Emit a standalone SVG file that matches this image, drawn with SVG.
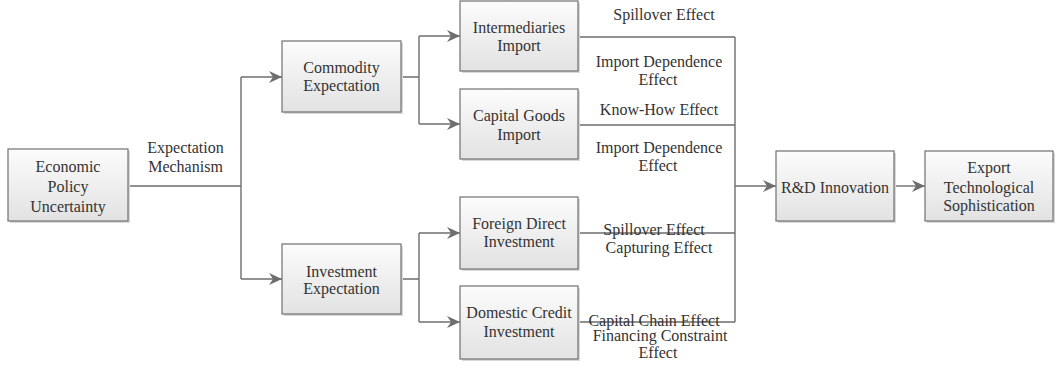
<svg xmlns="http://www.w3.org/2000/svg" width="1060" height="365" viewBox="0 0 1060 365">
<style>
.box{fill:url(#g);stroke:#707070;stroke-width:1.2}
.sh{fill:#d8d8d8}
.t{font-family:"Liberation Serif","Times New Roman",serif;font-size:16px;fill:#333;text-anchor:middle}
.c{fill:none;stroke:#6e6e6e;stroke-width:1.4}
.a{marker-end:url(#ar)}
</style>
<defs>
<linearGradient id="g" x1="0" y1="0" x2="0" y2="1">
<stop offset="0" stop-color="#fcfcfc"/>
<stop offset="1" stop-color="#e2e2e2"/>
</linearGradient>
<marker id="ar" markerUnits="userSpaceOnUse" markerWidth="14" markerHeight="12" refX="13" refY="6" orient="auto" viewBox="0 0 14 12">
<path d="M0,0 L13,6 L0,12 L4,6 Z" fill="#6e6e6e"/>
</marker>
</defs>
<g id="connectors">
<path class="c" d="M128,186 H241 M241,77 V279 M401,77 H419 M419,36 V124 M401,279 H419 M419,233 V322 M578,37 H735 M578,125 H735 M578,233 H735 M578,322 H735 M735,37 V322"/>
<path class="c a" d="M241,77 H282"/>
<path class="c a" d="M241,279 H282"/>
<path class="c a" d="M419,36 H460"/>
<path class="c a" d="M419,124 H460"/>
<path class="c a" d="M419,233 H460"/>
<path class="c a" d="M419,322 H460"/>
<path class="c a" d="M735,186 H776"/>
<path class="c a" d="M894,186 H925"/>
</g>
<g id="labels">
<text class="t" x="185.5" y="153">Expectation</text>
<text class="t" x="185.5" y="172">Mechanism</text>
<text class="t" x="664" y="20">Spillover Effect</text>
<text class="t" x="659" y="67">Import Dependence</text>
<text class="t" x="658" y="85">Effect</text>
<text class="t" x="659" y="115">Know-How Effect</text>
<text class="t" x="659" y="153">Import Dependence</text>
<text class="t" x="658" y="171">Effect</text>
<text class="t" x="654" y="235">Spillover Effect</text>
<text class="t" x="659" y="253">Capturing Effect</text>
<text class="t" x="654" y="326">Capital Chain Effect</text>
<text class="t" x="660" y="341">Financing Constraint</text>
<text class="t" x="658" y="358">Effect</text>
</g>
<g id="epu">
<rect class="sh" x="10" y="151" width="120" height="72"/>
<rect class="box" x="8" y="149" width="120" height="72"/>
<text class="t" x="68" y="172">Economic</text>
<text class="t" x="68" y="192">Policy</text>
<text class="t" x="68" y="212">Uncertainty</text>
</g>
<g id="commodity">
<rect class="sh" x="284" y="43" width="119" height="71"/>
<rect class="box" x="282" y="41" width="119" height="71"/>
<text class="t" x="341.5" y="73">Commodity</text>
<text class="t" x="341.5" y="91">Expectation</text>
</g>
<g id="investment">
<rect class="sh" x="284" y="246" width="119" height="70"/>
<rect class="box" x="282" y="244" width="119" height="70"/>
<text class="t" x="341.5" y="277">Investment</text>
<text class="t" x="341.5" y="294">Expectation</text>
</g>
<g id="intermediaries">
<rect class="sh" x="462" y="3" width="118" height="70"/>
<rect class="box" x="460" y="1" width="118" height="70"/>
<text class="t" x="519" y="33">Intermediaries</text>
<text class="t" x="519" y="51">Import</text>
</g>
<g id="capital">
<rect class="sh" x="462" y="91" width="118" height="70"/>
<rect class="box" x="460" y="89" width="118" height="70"/>
<text class="t" x="519" y="121">Capital Goods</text>
<text class="t" x="519" y="140">Import</text>
</g>
<g id="fdi">
<rect class="sh" x="462" y="199" width="118" height="72"/>
<rect class="box" x="460" y="197" width="118" height="72"/>
<text class="t" x="519" y="229">Foreign Direct</text>
<text class="t" x="519" y="247">Investment</text>
</g>
<g id="dci">
<rect class="sh" x="462" y="288" width="118" height="73"/>
<rect class="box" x="460" y="286" width="118" height="73"/>
<text class="t" x="519" y="318">Domestic Credit</text>
<text class="t" x="519" y="337">Investment</text>
</g>
<g id="rd">
<rect class="sh" x="778" y="153" width="118" height="70"/>
<rect class="box" x="776" y="151" width="118" height="70"/>
<text class="t" x="835" y="193">R&amp;D Innovation</text>
</g>
<g id="export">
<rect class="sh" x="927" y="153" width="128" height="70"/>
<rect class="box" x="925" y="151" width="128" height="70"/>
<text class="t" x="989" y="173">Export</text>
<text class="t" x="989" y="193">Technological</text>
<text class="t" x="989" y="211">Sophistication</text>
</g>
</svg>
